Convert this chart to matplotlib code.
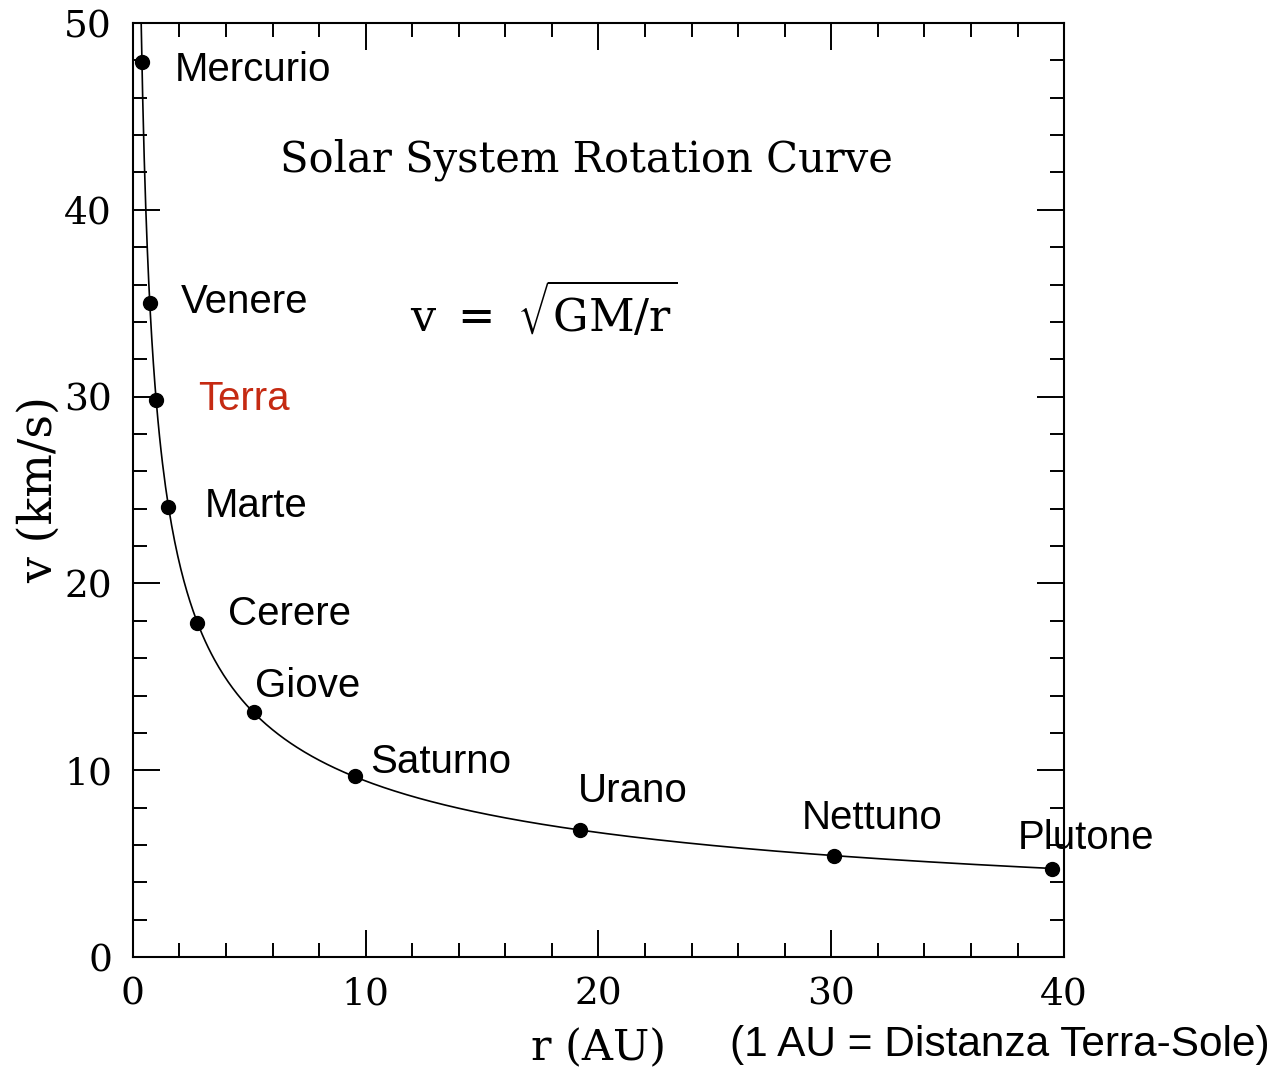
import numpy as np
import matplotlib.pyplot as plt
from matplotlib.ticker import MultipleLocator

# Pianeti: raggio orbitale (AU) e velocità orbitale (km/s)
pianeti = ["Mercurio", "Venere", "Terra", "Marte", "Cerere",
           "Giove", "Saturno", "Urano", "Nettuno", "Plutone"]
r_au = [0.39, 0.72, 1.0, 1.52, 2.77, 5.2, 9.54, 19.2, 30.1, 39.5]
v_kms = [47.9, 35.0, 29.8, 24.1, 17.9, 13.1, 9.7, 6.8, 5.4, 4.7]

# posizione delle etichette (AU, km/s)
etich_x = [1.8, 2.06, 2.79, 3.09, 4.08, 5.24, 10.18, 19.12, 28.74, 38.02]
etich_y = [47.5, 35.06, 29.87, 24.14, 18.36, 14.5, 10.44, 8.89, 7.44, 6.37]
colori_etich = ["black", "black", "#c52a12", "black", "black",
                "black", "black", "black", "black", "black"]

# velocità orbitale della Terra: v = sqrt(GM/r) con GM in (km/s)^2 * AU
v_terra = 29.8
r_curva = np.linspace(0.355, 39.6, 600)
v_curva = np.sqrt(v_terra**2 / r_curva)

plt.rcParams["mathtext.fontset"] = "dejavuserif"

fig = plt.figure(figsize=(12.78, 10.71), dpi=100)
ax = fig.add_axes([0.104, 0.1064, 0.7286, 0.8721])

ax.plot(r_curva, v_curva, color="black", linewidth=1.2)
ax.plot(r_au, v_kms, "o", color="black", markersize=10)

for nome, x, y, c in zip(pianeti, etich_x, etich_y, colori_etich):
    ax.text(x, y, nome, fontsize=29, family="Liberation Sans",
            color=c, va="center", ha="left")

ax.set_xlim(0, 40)
ax.set_ylim(0, 50)
ax.xaxis.set_major_locator(MultipleLocator(10))
ax.xaxis.set_minor_locator(MultipleLocator(2))
ax.yaxis.set_major_locator(MultipleLocator(10))
ax.yaxis.set_minor_locator(MultipleLocator(2))
ax.tick_params(which="both", direction="in", top=True, right=True,
               width=1.4, colors="black")
ax.tick_params(which="major", length=19.5)
ax.tick_params(which="minor", length=10)
ax.tick_params(axis="y", which="major", pad=15)
ax.tick_params(axis="x", which="major", pad=14)
for lab in ax.get_xticklabels() + ax.get_yticklabels():
    lab.set_family("DejaVu Serif")
    lab.set_fontsize(27)
for s in ax.spines.values():
    s.set_linewidth(1.5)

ax.set_xlabel("r (AU)", family="DejaVu Serif", fontsize=31)
ax.xaxis.set_label_coords(0.50, -0.098)
ax.xaxis.label.set_va("center")
ax.set_ylabel("v (km/s)", family="DejaVu Serif", fontsize=33)
ax.yaxis.set_label_coords(-0.101, 0.5)
ax.yaxis.label.set_va("center")

ax.text(19.5, 42.67, "Solar System Rotation Curve", family="DejaVu Serif",
        fontsize=30, ha="center", va="center")
ax.text(11.9, 34.6, r"$\mathrm{v}\ =\ \sqrt{\mathrm{GM/r}}$",
        fontsize=32, ha="left", va="center")

fig.text(0.9937, 0.024, "(1 AU = Distanza Terra-Sole)", family="Liberation Sans",
         fontsize=30.5, ha="right", va="center")

fig.savefig("out.png", dpi=100)
